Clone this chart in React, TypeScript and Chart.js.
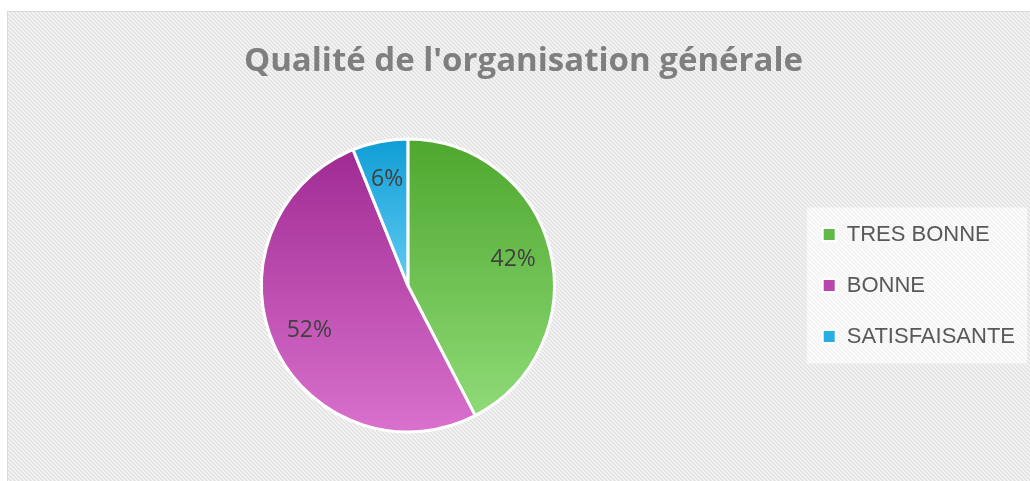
import React, { useEffect, useRef } from 'react';
import { Chart, registerables } from 'chart.js';

Chart.register(...registerables);

const TITLE = "Qualité de l'organisation générale";
const CATEGORIES = ['TRES BONNE', 'BONNE', 'SATISFAISANTE'];
const SHARES = [42.4, 51.5, 6.1];
const TOP_COLORS = ['#4ea72e', '#a02b93', '#0f9ed5'];
const BOTTOM_COLORS = ['#8fdb77', '#d971cd', '#62cbf3'];
const LEGEND_COLORS = ['#62b84a', '#b845ab', '#2aaee2'];

const PIE_RADIUS = 146.5;

const sliceFill = (c: any) => {
  const i = c.dataIndex;
  const chart = c.chart;
  const ca = chart.chartArea;
  if (i === undefined || i === null) return TOP_COLORS[0];
  if (!ca) return TOP_COLORS[i];
  const data = c.dataset.data as number[];
  const total = data.reduce((a, b) => a + b, 0);
  let before = 0;
  for (let k = 0; k < i; k++) before += data[k];
  const start = -Math.PI / 2 + (2 * Math.PI * before) / total;
  const end = start + (2 * Math.PI * data[i]) / total;
  const cy = (ca.top + ca.bottom) / 2;
  let minY = cy;
  let maxY = cy;
  const consider = (a: number) => {
    const yy = cy + PIE_RADIUS * Math.sin(a);
    minY = Math.min(minY, yy);
    maxY = Math.max(maxY, yy);
  };
  consider(start);
  consider(end);
  for (const a of [-Math.PI / 2, Math.PI / 2, (3 * Math.PI) / 2]) {
    if (a >= start && a <= end) consider(a);
  }
  const g = chart.ctx.createLinearGradient(0, minY, 0, maxY);
  g.addColorStop(0, TOP_COLORS[i]);
  g.addColorStop(1, BOTTOM_COLORS[i]);
  return g;
};

function makePattern(ctx: CanvasRenderingContext2D) {
  const c = document.createElement('canvas');
  c.width = 4;
  c.height = 4;
  const p = c.getContext('2d')!;
  const tones = ['#f7f7f7', '#ebebeb', '#dfdfdf', '#ebebeb'];
  for (let y = 0; y < 4; y++) {
    for (let x = 0; x < 4; x++) {
      p.fillStyle = tones[(((x - y) % 4) + 4) % 4];
      p.fillRect(x, y, 1, 1);
    }
  }
  return ctx.createPattern(c, 'repeat');
}

const backgroundPlugin = {
  id: 'excelBackground',
  beforeDraw(chart: any) {
    const { ctx, width, height } = chart;
    ctx.save();
    ctx.fillStyle = '#ffffff';
    ctx.fillRect(0, 0, width, height);
    const pat = makePattern(ctx);
    if (pat) {
      ctx.fillStyle = pat;
      ctx.fillRect(8, 12, width, height);
    }
    ctx.strokeStyle = '#d9d9d9';
    ctx.lineWidth = 1;
    ctx.strokeRect(7.5, 11.5, width + 20, height + 20);

    const legend = chart.legend;
    if (legend && legend.options.display) {
      const pad = legend.options.labels.padding;
      const itemX = legend.left + pad;
      const cy = (legend.top + legend.bottom) / 2;
      const x0 = itemX - 16;
      const x1 = legend.right + 2;
      ctx.fillStyle = 'rgba(255,255,255,0.6)';
      ctx.fillRect(x0, cy - 78, x1 - x0, 156);
    }
    ctx.restore();
  },
};

const labelPlugin = {
  id: 'percentLabels',
  afterDatasetsDraw(chart: any) {
    const { ctx } = chart;
    const meta = chart.getDatasetMeta(0);
    const data = chart.data.datasets[0].data as number[];
    const total = data.reduce((a, b) => a + b, 0);
    ctx.save();
    ctx.font = '23px "Open Sans"';
    ctx.fillStyle = '#404040';
    ctx.textAlign = 'center';
    ctx.textBaseline = 'middle';
    meta.data.forEach((arc: any, i: number) => {
      const p = arc.getProps(['x', 'y', 'startAngle', 'endAngle', 'outerRadius'], true);
      const mid = (p.startAngle + p.endAngle) / 2;
      const r = p.outerRadius * 0.74;
      const tx = p.x + Math.cos(mid) * r;
      const ty = p.y + Math.sin(mid) * r;
      ctx.fillText(Math.round((data[i] / total) * 100) + '%', tx, ty);
    });
    ctx.restore();
  },
};

export default function App() {
  const canvasRef = useRef<HTMLCanvasElement | null>(null);

  useEffect(() => {
    const canvas = canvasRef.current;
    if (!canvas) return;
    const chart = new Chart(canvas, {
      type: 'pie',
      data: {
        labels: CATEGORIES,
        datasets: [
          {
            data: SHARES,
            backgroundColor: sliceFill as any,
            borderColor: '#ffffff',
            borderWidth: 3,
          },
        ],
      },
      options: {
        animation: false,
        responsive: true,
        maintainAspectRatio: false,
        radius: PIE_RADIUS as any,
        layout: { padding: { left: 22, right: 5, top: 0, bottom: 10 } },
        plugins: {
          title: {
            display: true,
            text: TITLE,
            color: '#7f7f7f',
            font: { family: '"Open Sans"', size: 33, weight: 'bold', lineHeight: 1.2 },
            padding: { top: 41.7, bottom: 18.7 },
          },
          legend: {
            display: true,
            position: 'right',
            fullSize: false,
            labels: {
              boxWidth: 13,
              boxHeight: 13,
              padding: 29,
              color: '#595959',
              font: { family: '"Liberation Sans"', size: 22 },
              generateLabels: () =>
                CATEGORIES.map((text, i) => ({
                  text,
                  fillStyle: LEGEND_COLORS[i],
                  strokeStyle: '#ffffff',
                  lineWidth: 2,
                  fontColor: '#595959',
                  hidden: false,
                  index: i,
                  datasetIndex: 0,
                })) as any,
            },
          },
          tooltip: { enabled: false },
        },
      } as any,
      plugins: [backgroundPlugin, labelPlugin],
    });
    return () => chart.destroy();
  }, []);

  return (
    <div
      style={{
        position: 'fixed',
        left: 0,
        top: 0,
        width: 1030,
        height: 481,
        overflow: 'hidden',
        background: '#ffffff',
      }}
    >
      <canvas ref={canvasRef} />
    </div>
  );
}
